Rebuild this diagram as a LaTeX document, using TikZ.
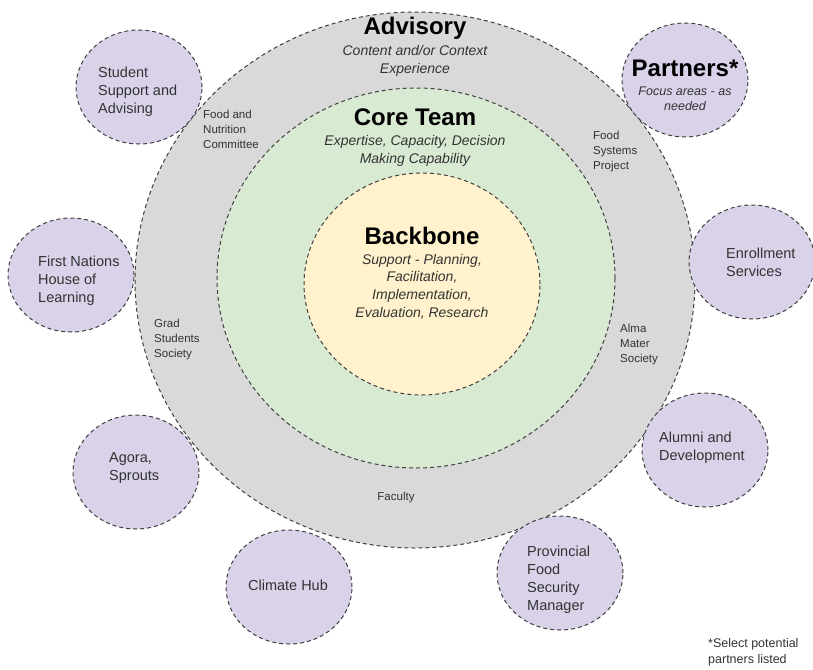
\documentclass[tikz,border=0pt]{standalone}
\usepackage{fontspec}
\setmainfont{Liberation Sans}
\usepackage{tikz}
\usetikzlibrary{shapes.geometric,positioning}

\definecolor{advisorygrey}{HTML}{D9D9D9}
\definecolor{coregreen}{HTML}{D9EAD3}
\definecolor{backboneyellow}{HTML}{FFF2CC}
\definecolor{partnerlilac}{HTML}{D9D2E9}
\definecolor{labelgrey}{HTML}{333333}

\tikzset{
  ring/.style={
      ellipse,
      draw=black!75,
      line width=1pt,
      dash pattern=on 4pt off 3pt,
      inner sep=0pt,
  },
  partner/.style={
      ring,
      fill=partnerlilac,
      minimum width=126pt,
      minimum height=114pt,
  },
  ringtitle/.style={
      font=\fontsize{24}{28}\selectfont\bfseries,
      anchor=base,
      inner sep=0pt,
  },
  ringnote/.style={
      font=\fontsize{14}{18}\selectfont\itshape,
      text=labelgrey,
      align=center,
      inner sep=0pt,
  },
  member/.style={
      font=\fontsize{11.5}{15}\selectfont,
      text=labelgrey,
      align=left,
      anchor=west,
      inner sep=0pt,
  },
  partnername/.style={
      font=\fontsize{14.5}{18}\selectfont,
      text=labelgrey,
      align=left,
      anchor=west,
      inner sep=0pt,
  },
}

\begin{document}
\begin{tikzpicture}[x=1pt,y=-1pt]
  \useasboundingbox (0,0) rectangle (813,669);

  % the three rings, outermost first
  \node[ring, fill=advisorygrey, minimum width=560pt, minimum height=536pt] (advisory) at (415,280) {};
  \node[ring, fill=coregreen, minimum width=398pt, minimum height=380pt] (coreteam) at (416,278) {};
  \node[ring, fill=backboneyellow, minimum width=236pt, minimum height=222pt] (backbone) at (422,284) {};

  % partner circles round the rings
  \node[partner] (student) at (139,87) {};
  \node[partner] (partners) at (685,80) {};
  \node[partner] (firstnations) at (71,275) {};
  \node[partner] (enrollment) at (752,262) {};
  \node[partner] (agora) at (136,472) {};
  \node[partner] (climate) at (289,587) {};
  \node[partner] (alumni) at (705,450) {};
  \node[partner] (provincial) at (560,573) {};

  % ring titles
  \node[ringtitle] (advisorytitle) at (415,35) {Advisory};
  \node[ringnote] (advisorynote) at (415,61) {Content and/or Context\\Experience};
  \node[ringtitle] (coretitle) at (415,125) {Core Team};
  \node[ringnote] (corenote) at (415,150.5) {Expertise, Capacity, Decision\\Making Capability};
  \node[ringtitle] (backbonetitle) at (422,244) {Backbone};
  \node[ringnote, font=\fontsize{14}{17.7}\selectfont\itshape] (backbonenote) at (422,286.5)
      {Support - Planning,\\Facilitation,\\Implementation,\\Evaluation, Research};
  \node[ringtitle] (partnerstitle) at (685,77) {Partners*};
  \node[ringnote, font=\fontsize{12.5}{15}\selectfont\itshape] (partnersnote) at (685,99)
      {Focus areas - as\\needed};

  % members sitting in the advisory ring
  \node[member] (fnc) at (203,129.5) {Food and\\Nutrition\\Committee};
  \node[member] (fsp) at (593,152) {Food\\Systems\\Project};
  \node[member] (gss) at (154,340) {Grad\\Students\\Society};
  \node[member] (ams) at (620,345) {Alma\\Mater\\Society};
  \node[member, anchor=center] (faculty) at (396,497.5) {Faculty};

  % partner names
  \node[partnername] (studentname) at (98,92) {Student\\Support and\\Advising};
  \node[partnername] (firstnationsname) at (38,281) {First Nations\\House of\\Learning};
  \node[partnername] (enrollmentname) at (726,262.5) {Enrollment\\Services};
  \node[partnername] (agoraname) at (109,468.5) {Agora,\\Sprouts};
  \node[partnername, anchor=center] (climatename) at (288,585.5) {Climate Hub};
  \node[partnername] (alumniname) at (659,447.5) {Alumni and\\Development};
  \node[partnername] (provincialname) at (527,580) {Provincial\\Food\\Security\\Manager};

  % footnote for the star
  \node[member, font=\fontsize{12.5}{16}\selectfont] (footnote) at (708,652) {*Select potential\\partners listed};
\end{tikzpicture}
\end{document}
